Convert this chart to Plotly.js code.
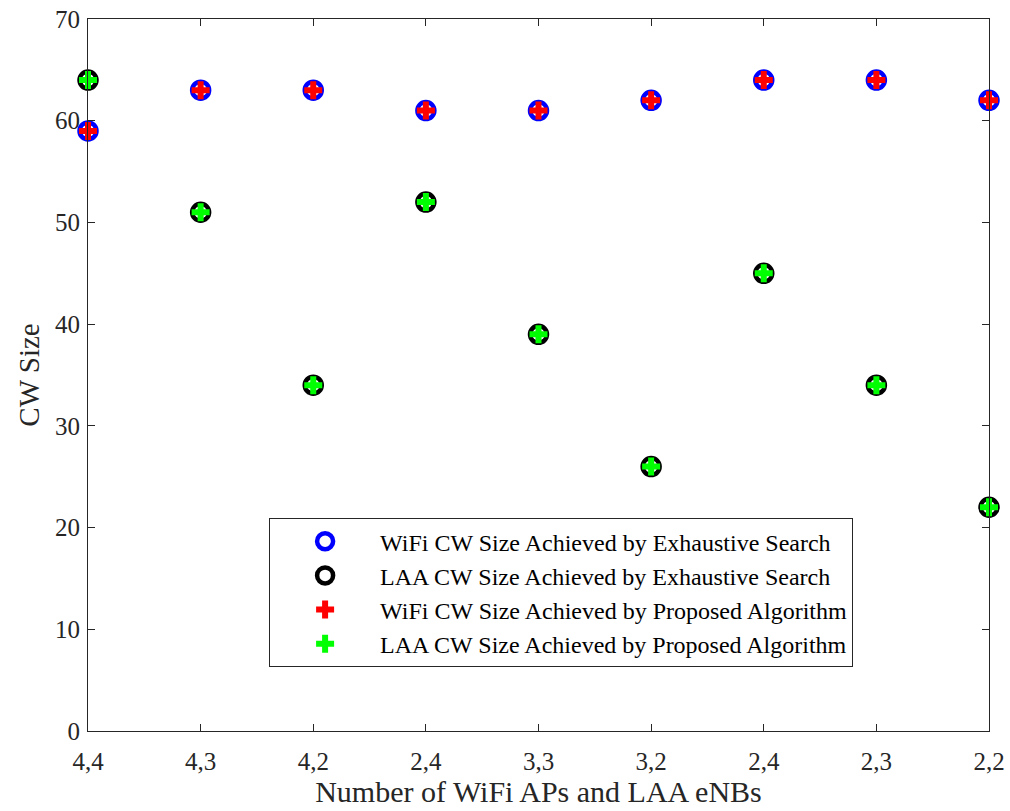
<!DOCTYPE html>
<html><head><meta charset="utf-8">
<script src="https://cdn.plot.ly/plotly-3.0.1.min.js"></script>
<style>html,body{margin:0;padding:0;background:#fff}#c{width:1010px;height:811px}</style>
</head><body><div id="c"></div>
<script>
var tickLabels = ["4,4","4,3","4,2","2,4","3,3","3,2","2,4","2,3","2,2"];
var xIdx = [0,1,2,3,4,5,6,7,8];
var wifiExhaustive = [59,63,63,61,61,62,64,64,62];
var laaExhaustive  = [64,51,34,52,39,26,45,34,22];
var wifiProposed   = [59,63,63,61,61,62,64,64,62];
var laaProposed    = [64,51,34,52,39,26,45,34,22];

var font = "Liberation Serif, Times New Roman, serif";
function circ(y, color, name){
  return {x:xIdx, y:y, mode:'markers', type:'scatter', name:name, cliponaxis:false,
    marker:{symbol:'circle-open', size:17, color:color, line:{color:color, width:4.5}}};
}
function plus(y, color, name){
  return {x:xIdx, y:y, mode:'markers', type:'scatter', name:name, cliponaxis:false,
    marker:{symbol:'cross', size:15, color:color, line:{width:0}}};
}
var data = [
  circ(wifiExhaustive,'#0000ff','WiFi CW Size Achieved by Exhaustive Search'),
  circ(laaExhaustive,'#000000','LAA CW Size Achieved by Exhaustive Search'),
  plus(wifiProposed,'#ff0000','WiFi CW Size Achieved by Proposed Algorithm'),
  plus(laaProposed,'#00ff00','LAA CW Size Achieved by Proposed Algorithm')
];
var axisCommon = {showline:true, mirror:'ticks', linecolor:'#262626', linewidth:1, ticks:'inside',
  ticklen:7, tickcolor:'#262626', showgrid:false, zeroline:false,
  tickfont:{family:font, size:25, color:'#262626'}};
var layout = {
  width:1010, height:811, paper_bgcolor:'#fff', plot_bgcolor:'#fff',
  margin:{l:88, r:21, t:19, b:80},
  showlegend:true,
  xaxis:Object.assign({}, axisCommon, {range:[0,8], tickvals:xIdx, ticktext:tickLabels,
    ticklabelstandoff:8,
    title:{text:'Number of WiFi APs and LAA eNBs', font:{family:font, size:30, color:'#262626'}, standoff:5}}),
  yaxis:Object.assign({}, axisCommon, {range:[0,70], dtick:10, ticklabelstandoff:2,
    title:{text:'CW Size', font:{family:font, size:29, color:'#262626'}, standoff:6}}),
  legend:{x:0.201, y:0.299, xanchor:'left', yanchor:'top', bgcolor:'#fff', bordercolor:'#262626', borderwidth:1,
    font:{family:font, size:24, color:'#000'}, tracegroupgap:0, itemwidth:100}
};
Plotly.newPlot('c', data, layout, {displayModeBar:false, staticPlot:true});
</script></body></html>
